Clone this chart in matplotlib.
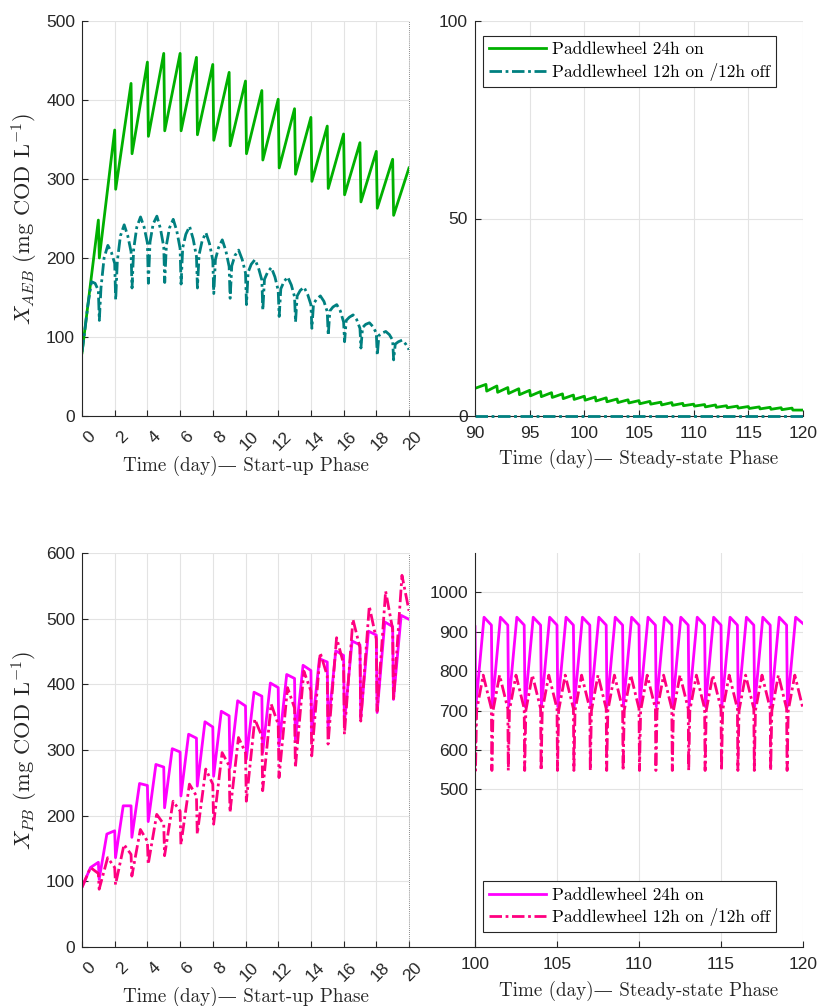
import matplotlib
matplotlib.use("Agg")
import matplotlib.pyplot as plt
import matplotlib.transforms as mtransforms
from matplotlib.lines import Line2D

# ---------------- data ----------------
# Start-up phase, X_AEB, paddlewheel 24h on (sawtooth: value just before / just after daily drop)
aeb24_start = 80
aeb24_before = [248, 362, 421, 448, 459, 459, 454, 445, 435, 424, 412, 401, 389, 378, 367, 357, 346, 335, 325]
aeb24_after = [200, 287, 332, 354, 361, 361, 356, 349, 342, 332, 324, 314, 306, 297, 288, 280, 271, 263, 254]
aeb24_end = 314

# Start-up phase, X_AEB, paddlewheel 12h on / 12h off (per day samples at phase offsets)
aeb12_phase = [0.0, 0.06, 0.16, 0.35, 0.58, 0.8]
aeb12_days = [
    [81, 90, 106, 139, 170, 168],
    [159, 121, 162, 200, 216, 207],
    [193, 147, 196, 228, 242, 228],
    [208, 162, 211, 239, 252, 239],
    [219, 168, 220, 243, 253, 237],
    [214, 169, 216, 238, 249, 234],
    [212, 167, 213, 230, 240, 224],
    [202, 162, 204, 222, 232, 218],
    [197, 155, 198, 213, 223, 209],
    [189, 149, 190, 203, 210, 198],
    [181, 141, 182, 192, 198, 187],
    [172, 134, 173, 182, 188, 176],
    [159, 126, 161, 170, 176, 166],
    [151, 119, 152, 159, 163, 154],
    [141, 111, 142, 148, 152, 145],
    [132, 102, 133, 138, 141, 133],
    [119, 94, 121, 125, 128, 122],
    [111, 86, 112, 116, 118, 113],
    [105, 77, 102, 105, 107, 103],
    [96, 71, 91, 94, 96, 91],
]
aeb12_end = 84

# Steady-state phase, X_AEB
aeb24_ss_start = 7.0
aeb24_ss_peak = [8.0, 7.6, 7.2, 6.9, 6.5, 6.2, 5.9, 5.6, 5.3, 5.0, 4.8, 4.6, 4.3, 4.1, 3.9,
                 3.7, 3.5, 3.4, 3.2, 3.0, 2.9, 2.8, 2.6, 2.5, 2.4, 2.3, 2.2, 2.1, 2.0]
aeb24_ss_low = [6.3, 6.0, 5.7, 5.4, 5.1, 4.9, 4.7, 4.4, 4.2, 4.0, 3.8, 3.6, 3.4, 3.3, 3.1,
                3.0, 2.8, 2.7, 2.6, 2.5, 2.3, 2.2, 2.1, 2.0, 1.9, 1.8, 1.7, 1.6, 1.5]
aeb24_ss_end = 1.5
aeb12_ss_t = [90, 120]
aeb12_ss = [0.0, 0.0]

# Start-up phase, X_PB, 24h on
pb24_start = [91, 121]          # day 0 and mid-day 0
pb24_shoulder = [129, 177, 215, 246, 274, 297, 318, 335, 352, 367, 382, 395, 409, 421, 434, 444, 460, 475, 488]
pb24_low = [103, 136, 167, 191, 212, 230, 245, 260, 273, 286, 296, 306, 316, 326, 334, 342, 349, 357, 377]
pb24_peak = [172, 215, 249, 278, 302, 324, 343, 359, 375, 388, 402, 415, 429, 439, 451, 466, 481, 495, 505]
pb24_end = 499

# Start-up phase, X_PB, 12h on / 12h off
pb12_start = [91, 121]
pb12_pre = [112, 121, 141, 161, 187, 207, 230, 248, 276, 296, 321, 339, 364, 390, 413, 431, 456, 469, 484]
pb12_dip = [88, 95, 108, 126, 139, 156, 172, 187, 205, 222, 238, 258, 273, 291, 309, 324, 344, 359, 375]
pb12_peak = [136, 156, 179, 202, 222, 248, 271, 296, 319, 347, 370, 395, 420, 448, 471, 499, 519, 542, 566]
pb12_end = 512

# Steady-state phase, X_PB
pb24_ss_first = [913, 710, 937]
pb24_ss_shoulder = [917, 917, 917, 917, 917, 917, 917, 917, 917, 917, 917, 917, 917, 917, 917, 917, 917, 917, 917]
pb24_ss_low = [710, 710, 710, 710, 710, 710, 710, 710, 710, 710, 710, 710, 710, 710, 710, 710, 710, 710, 710]
pb24_ss_peak = [937, 937, 937, 937, 937, 937, 937, 937, 937, 937, 937, 937, 937, 937, 937, 937, 937, 937, 937]
pb24_ss_end = 921
pb12_ss_pre = [705, 705, 705, 705, 705, 705, 705, 705, 705, 705, 705, 705, 705, 705, 705, 705, 705, 705, 705, 705]
pb12_ss_dip = [548, 548, 548, 548, 548, 548, 548, 548, 548, 548, 548, 548, 548, 548, 548, 548, 548, 548, 548, 548]
pb12_ss_reb = [700, 700, 700, 700, 700, 700, 700, 700, 700, 700, 700, 700, 700, 700, 700, 700, 700, 700, 700, 700]
pb12_ss_peak = [790, 790, 790, 790, 790, 790, 790, 790, 790, 790, 790, 790, 790, 790, 790, 790, 790, 790, 790, 790]
pb12_ss_end = 705

xt_su = list(range(0, 21, 2))
xt_ss_top = list(range(90, 121, 5))
xt_ss_bot = list(range(100, 121, 5))
yt_aeb = list(range(0, 501, 100))
yt_aeb_ss = [0, 50, 100]
yt_pb = list(range(0, 601, 100))
yt_pb_ss = list(range(500, 1001, 100))

label_24 = "Paddlewheel 24h on"
label_12 = "Paddlewheel 12h on /12h off"
xlab_su = "Time (day)\u2014 Start-up Phase"
xlab_ss = "Time (day)\u2014 Steady-state Phase"

# ---------------- build series ----------------
def saw(start, before, after, end, first_day, drop_dt, last_day):
    t, y = [first_day], [start]
    for i, (b, a) in enumerate(zip(before, after)):
        d = first_day + 1 + i
        t += [d, d + drop_dt]
        y += [b, a]
    t.append(last_day)
    y.append(end)
    return t, y

t_aeb24, y_aeb24 = saw(aeb24_start, aeb24_before, aeb24_after, aeb24_end, 0, 0.06, 20)
t_aeb24_ss, y_aeb24_ss = saw(aeb24_ss_start, aeb24_ss_peak, aeb24_ss_low, aeb24_ss_end, 90, 0.07, 120)

t_aeb12, y_aeb12 = [], []
for d, vals in enumerate(aeb12_days):
    for ph, v in zip(aeb12_phase, vals):
        t_aeb12.append(d + ph)
        y_aeb12.append(v)
t_aeb12.append(20)
y_aeb12.append(aeb12_end)

t_pb24, y_pb24 = [0, 0.52], list(pb24_start)
for i in range(len(pb24_shoulder)):
    d = 1 + i
    t_pb24 += [d, d + 0.05, d + 0.52]
    y_pb24 += [pb24_shoulder[i], pb24_low[i], pb24_peak[i]]
t_pb24.append(20)
y_pb24.append(pb24_end)

t_pb12, y_pb12 = [0, 0.52], list(pb12_start)
for i in range(len(pb12_pre)):
    d = 1 + i
    t_pb12 += [d, d + 0.05, d + 0.57]
    y_pb12 += [pb12_pre[i], pb12_dip[i], pb12_peak[i]]
t_pb12.append(20)
y_pb12.append(pb12_end)

t_pb24_ss = [100, 100.05, 100.55]
y_pb24_ss = list(pb24_ss_first)
for i in range(len(pb24_ss_shoulder)):
    d = 101 + i
    t_pb24_ss += [d, d + 0.05, d + 0.55]
    y_pb24_ss += [pb24_ss_shoulder[i], pb24_ss_low[i], pb24_ss_peak[i]]
t_pb24_ss.append(120)
y_pb24_ss.append(pb24_ss_end)

t_pb12_ss, y_pb12_ss = [], []
for i in range(len(pb12_ss_pre)):
    d = 100 + i
    t_pb12_ss += [d, d + 0.03, d + 0.1, d + 0.5]
    y_pb12_ss += [pb12_ss_pre[i], pb12_ss_dip[i], pb12_ss_reb[i], pb12_ss_peak[i]]
t_pb12_ss.append(120)
y_pb12_ss.append(pb12_ss_end)

# ---------------- style ----------------
plt.rcParams['mathtext.fontset'] = 'cm'
SERIF = ['cmr10', 'DejaVu Serif']
SANS = ['Liberation Sans', 'DejaVu Sans']
AX_COL = '#262626'
GRID_COL = '#e3e3e3'
FS = 12.5
FS_LAB = 13.75
FS_YLAB = 16.2
LW = 2.0
DASHDOT = (0, (4.5, 1.3, 1.0, 1.3))

C_GREEN = '#00b000'
C_TEAL = '#008080'
C_MAG = '#ff00ff'
C_PINK = '#ff0080'

W, H = 818, 1006
fig = plt.figure(figsize=(W / 100, H / 100), dpi=100)

def box(x0, y0, x1, y1):
    return [x0 / W, 1 - y1 / H, (x1 - x0) / W, (y1 - y0) / H]

ax1 = fig.add_axes(box(82, 21, 409, 416))
ax2 = fig.add_axes(box(475, 21, 803, 416))
ax3 = fig.add_axes(box(82, 553, 409, 947))
ax4 = fig.add_axes(box(475, 553, 803, 947))

def style(ax, xt, yt, xlim, ylim):
    ax.set_xlim(*xlim)
    ax.set_ylim(*ylim)
    ax.set_xticks(xt)
    ax.set_yticks(yt)
    for s in ['top', 'right']:
        ax.spines[s].set_visible(False)
    for s in ['left', 'bottom']:
        ax.spines[s].set_color(AX_COL)
        ax.spines[s].set_linewidth(0.8)
    ax.grid(True, color=GRID_COL, lw=0.8)
    ax.set_axisbelow(True)
    ax.tick_params(direction='in', length=4, width=0.8, color=AX_COL,
                   labelcolor=AX_COL, labelsize=FS)
    ax.tick_params(axis='y', pad=5)
    for lab in ax.get_xticklabels() + ax.get_yticklabels():
        lab.set_fontfamily(SANS)

style(ax1, xt_su, yt_aeb, (0, 20), (0, 500))
style(ax2, xt_ss_top, yt_aeb_ss, (90, 120), (0, 100))
style(ax3, xt_su, yt_pb, (0, 20), (0, 600))
style(ax4, xt_ss_bot, yt_pb_ss, (100, 120), (100, 1100))

# lines
ax1.plot(t_aeb24, y_aeb24, color=C_GREEN, lw=LW, label=label_24)
ax1.plot(t_aeb12, y_aeb12, color=C_TEAL, lw=LW, ls=DASHDOT, label=label_12)
ax2.plot(t_aeb24_ss, y_aeb24_ss, color=C_GREEN, lw=LW, label=label_24)
ax2.plot(aeb12_ss_t, aeb12_ss, color=C_TEAL, lw=LW, ls=DASHDOT, label=label_12,
         clip_on=False, zorder=3)
ax3.plot(t_pb24, y_pb24, color=C_MAG, lw=LW, label=label_24)
ax3.plot(t_pb12, y_pb12, color=C_PINK, lw=LW, ls=DASHDOT, label=label_12)
ax4.plot(t_pb24_ss, y_pb24_ss, color=C_MAG, lw=LW, label=label_24)
ax4.plot(t_pb12_ss, y_pb12_ss, color=C_PINK, lw=LW, ls=DASHDOT, label=label_12)

for ax in (ax1, ax3):
    ax.axvline(20, color='#606060', ls=(0, (1, 1.5)), lw=0.6, clip_on=False, zorder=5)

# x tick label placement
for ax in (ax1, ax3):
    ax.tick_params(axis='x', pad=13)
    for lab in ax.get_xticklabels():
        lab.set_rotation(45)
        lab.set_ha('right')
        lab.set_va('center')
        lab.set_rotation_mode('anchor')
        lab.set_transform(lab.get_transform() +
                          mtransforms.ScaledTranslation(11 / 100, 0, fig.dpi_scale_trans))
for ax in (ax2, ax4):
    ax.tick_params(axis='x', pad=7)

# axis labels
ax1.set_xlabel(xlab_su, fontfamily=SERIF, fontsize=FS_LAB, color=AX_COL)
ax3.set_xlabel(xlab_su, fontfamily=SERIF, fontsize=FS_LAB, color=AX_COL)
ax2.set_xlabel(xlab_ss, fontfamily=SERIF, fontsize=FS_LAB, color=AX_COL)
ax4.set_xlabel(xlab_ss, fontfamily=SERIF, fontsize=FS_LAB, color=AX_COL)
ax1.xaxis.set_label_coords(0.5, -0.101)
ax3.xaxis.set_label_coords(0.5, -0.1015)
ax2.xaxis.set_label_coords(0.5, -0.082)
ax4.xaxis.set_label_coords(0.5, -0.085)

ax1.set_ylabel(r'$X_{AEB}$ (mg COD L$^{-1}$)', fontfamily=SERIF, fontsize=FS_YLAB, color=AX_COL)
ax3.set_ylabel(r'$X_{PB}$ (mg COD L$^{-1}$)', fontfamily=SERIF, fontsize=FS_YLAB, color=AX_COL)
ax1.yaxis.set_label_coords(-0.127, 0.5)
ax3.yaxis.set_label_coords(-0.127, 0.5)

# legends
leg_kw = dict(prop={'family': SERIF, 'size': FS}, frameon=True, fancybox=False,
              framealpha=1, edgecolor=AX_COL, borderaxespad=0, borderpad=0.35,
              labelspacing=0.3, handletextpad=0.3, handlelength=3.3)
lg2 = ax2.legend(loc='upper left', bbox_to_anchor=(8 / 328, (416 - 36) / 395), **leg_kw)
lg4 = ax4.legend(loc='lower left', bbox_to_anchor=(8 / 328, (947 - 932) / 394), **leg_kw)
for lg in (lg2, lg4):
    lg.get_frame().set_linewidth(0.8)

# continuous bottom axis line between panels
for yb in (416, 947):
    fig.add_artist(Line2D([409 / W, 475 / W], [1 - yb / H, 1 - yb / H],
                          transform=fig.transFigure, color=AX_COL, lw=0.8))

fig.savefig('out.png', dpi=100)
